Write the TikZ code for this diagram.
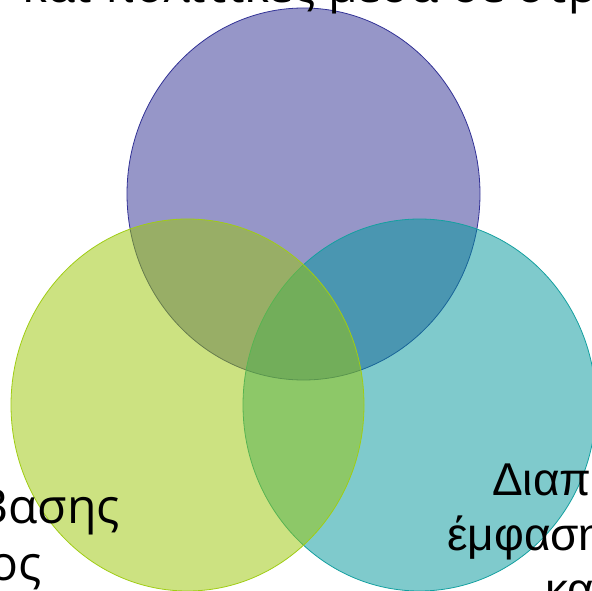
\documentclass[tikz,border=0pt]{standalone}
\usepackage{fontspec}
\setmainfont{Open Sans}
\newfontfamily\arialfont{Liberation Sans}
\definecolor{setpurple}{RGB}{47,47,147}
\definecolor{setteal}{RGB}{0,151,155}
\definecolor{setgreen}{RGB}{155,199,5}
\definecolor{edgepurple}{RGB}{50,50,150}
\definecolor{edgeteal}{RGB}{20,160,160}
\definecolor{edgegreen}{RGB}{160,205,20}
\tikzset{
  setarea/.style={fill opacity=.5, draw opacity=1, line width=.8pt},
  sidetext/.style={font=\fontsize{48}{57}\selectfont, inner sep=0pt},
  righttext/.style={font=\arialfont\fontsize{46}{55}\selectfont, inner sep=0pt}
}

\begin{document}
\begin{tikzpicture}[x=1pt,y=-1pt]
\useasboundingbox (0,0) rectangle (592,591);
\clip (0,0) rectangle (592,591);
\fill[white] (0,0) rectangle (592,591);

% the three sets
\filldraw[setarea, draw=edgepurple, fill=setpurple] (303.5,194) ellipse [x radius=176.5, y radius=186];
\filldraw[setarea, draw=edgeteal, fill=setteal] (419.5,405) ellipse [x radius=176.5, y radius=186];
\filldraw[setarea, draw=edgegreen, fill=setgreen] (187.5,405) ellipse [x radius=176.5, y radius=186];

% labels
\node[sidetext, anchor=base west] (toplabel) at (22,3) {και πολιτικές μέσα σε στρατηγικές};
\node[sidetext, anchor=base east] (leftlabela) at (120,523) {Βασης};
\node[sidetext, anchor=base east] (leftlabelb) at (42,580) {ος};
\node[righttext, anchor=base west] (rightlabela) at (492,495) {Διαπ};
\node[righttext, anchor=base west] (rightlabelb) at (447,550) {έμφαση};
\node[righttext, anchor=base west] (rightlabelc) at (545,605) {και};
\end{tikzpicture}
\end{document}
